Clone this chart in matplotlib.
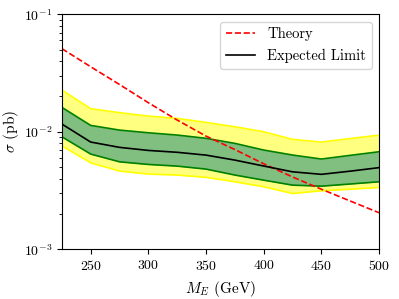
import numpy as np
import matplotlib
matplotlib.use('Agg')
import matplotlib.pyplot as plt

plt.rcParams['font.family'] = 'cmr10'
plt.rcParams['mathtext.fontset'] = 'cm'
plt.rcParams['axes.formatter.use_mathtext'] = True

# ── Data ─────────────────────────────────────────────────────────────────────
mass = [225, 250, 275, 300, 325, 350, 375, 400, 425, 450, 475, 500]
theory = [0.0511, 0.0358, 0.0253, 0.0177, 0.0126, 0.0092, 0.00707, 0.00535,
          0.00413, 0.00325, 0.00258, 0.00205]
expected = [0.01166, 0.00819, 0.00738, 0.00695, 0.00670, 0.00634, 0.00575,
            0.00512, 0.00457, 0.00435, 0.00463, 0.00496]
plus1 = [0.01617, 0.01135, 0.01035, 0.00982, 0.00939, 0.00881, 0.00798,
         0.00700, 0.00635, 0.00587, 0.00631, 0.00677]
minus1 = [0.00908, 0.00647, 0.00556, 0.00528, 0.00511, 0.00482, 0.00429,
          0.00388, 0.00352, 0.00345, 0.00360, 0.00376]
plus2 = [0.0227, 0.01574, 0.01456, 0.01362, 0.01302, 0.01204, 0.01105,
         0.01002, 0.00863, 0.00818, 0.00877, 0.00938]
minus2 = [0.00760, 0.00545, 0.00464, 0.00437, 0.00429, 0.00410, 0.00376,
          0.00341, 0.00299, 0.00315, 0.00325, 0.00336]

fig = plt.figure(figsize=(3.99, 2.99), dpi=100)
ax = fig.add_axes([0.155, 0.166, 0.795, 0.786])

# 2 sigma band
ax.fill_between(mass, minus2, plus2, color='#ffff80', lw=0)
ax.plot(mass, plus2, color='yellow', lw=1.2)
ax.plot(mass, minus2, color='yellow', lw=1.2)
# 1 sigma band
ax.fill_between(mass, minus1, plus1, color='#80bf80', lw=0)
ax.plot(mass, plus1, color='green', lw=1.2)
ax.plot(mass, minus1, color='green', lw=1.2)

ax.plot(mass, theory, 'r--', lw=1.2, label='Theory')
ax.plot(mass, expected, 'k-', lw=1.2, label='Expected Limit')

ax.set_yscale('log')
ax.set_xlim(225, 500)
ax.set_ylim(1e-3, 1e-1)
ax.set_xticks([250, 300, 350, 400, 450, 500])
ax.set_xlabel(r'$M_E$ (GeV)', fontsize=11)
ax.set_ylabel(r'$\sigma$ (pb)', fontsize=11, labelpad=2)
ax.tick_params(labelsize=10)
ax.legend(loc='upper right', fontsize=10.5)

fig.savefig('out.png', dpi=100)
